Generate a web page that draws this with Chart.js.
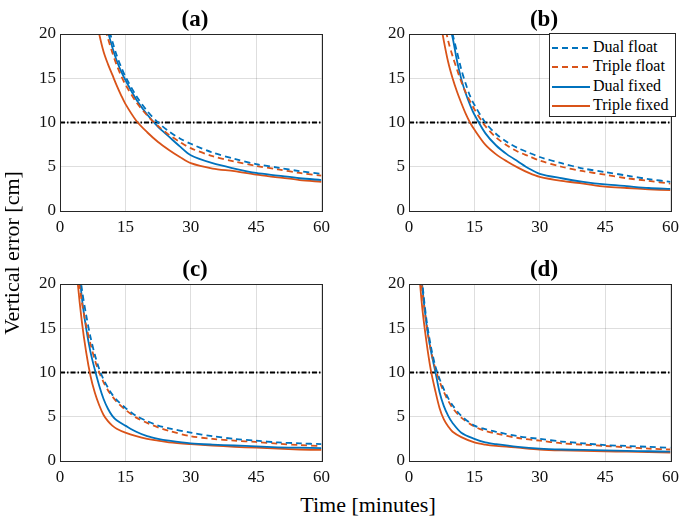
<!DOCTYPE html>
<html>
<head>
<meta charset="utf-8">
<script src="https://cdn.jsdelivr.net/npm/chart.js@4.4.0/dist/chart.umd.min.js"></script>
<style>
  body { margin: 0; background: #fff; }
  #wrap { position: relative; width: 685px; height: 520px; font-family: "Liberation Serif", "Times New Roman", serif; color: #000; }
  canvas { position: absolute; }
  .ttl { position: absolute; width: 266px; text-align: center; font-weight: bold; font-size: 23px; line-height: 24px; }
  .lbl { position: absolute; font-size: 22px; line-height: 22px; white-space: nowrap; }
  #legend { position: absolute; left: 549px; top: 33px; width: 125px; height: 82px; border: 1px solid #262626; background: #fff; font-size: 16px; }
  #legend div { position: absolute; left: 2px; height: 20px; line-height: 20px; }
  #legend svg { vertical-align: middle; margin-right: 3px; }
</style>
</head>
<body>
<div id="wrap">
  <canvas id="cA" width="336" height="240" style="left:0;top:0"></canvas>
  <canvas id="cB" width="336" height="240" style="left:349px;top:0"></canvas>
  <canvas id="cC" width="336" height="240" style="left:0;top:250px"></canvas>
  <canvas id="cD" width="336" height="240" style="left:349px;top:250px"></canvas>

  <div class="ttl" style="left:62px;top:7px">(a)</div>
  <div class="ttl" style="left:411px;top:7px">(b)</div>
  <div class="ttl" style="left:62px;top:257px">(c)</div>
  <div class="ttl" style="left:411px;top:257px">(d)</div>

  <div class="lbl" style="left:-88px;top:242px;transform:rotate(-90deg);width:200px;text-align:center">Vertical error [cm]</div>
  <div class="lbl" style="left:268px;top:494px;width:200px;text-align:center">Time [minutes]</div>

  <div id="legend">
    <div style="top:3px"><svg width="38" height="4"><line x1="0" y1="2" x2="38" y2="2" stroke="#0072BD" stroke-width="2" stroke-dasharray="6 4"/></svg>Dual float</div>
    <div style="top:22px"><svg width="38" height="4"><line x1="0" y1="2" x2="38" y2="2" stroke="#D95319" stroke-width="2" stroke-dasharray="6 4"/></svg>Triple float</div>
    <div style="top:42px"><svg width="38" height="4"><line x1="0" y1="2" x2="38" y2="2" stroke="#0072BD" stroke-width="2"/></svg>Dual fixed</div>
    <div style="top:61px"><svg width="38" height="4"><line x1="0" y1="2" x2="38" y2="2" stroke="#D95319" stroke-width="2"/></svg>Triple fixed</div>
  </div>
</div>

<script>
// time axis (minutes) and error values (cm)
const timeRange = [0, 60];
const threshold = 10;

const timesA = [8, 9, 10, 11, 12, 13, 14, 15, 17.5, 20, 22.5, 25, 27.5, 30, 35, 40, 45, 50, 55, 60];
const dualFloatA   = [28, 25.5, 23, 21, 19.2, 17.6, 16.3, 15.2, 13.0, 11.3, 10.0, 9.0, 8.2, 7.6, 6.6, 5.9, 5.3, 4.9, 4.5, 4.2];
const tripleFloatA = [26, 23.5, 21.3, 19.5, 17.9, 16.5, 15.3, 14.3, 12.3, 10.8, 9.6, 8.6, 7.8, 7.1, 6.2, 5.6, 5.1, 4.7, 4.3, 4.0];
const dualFixedA   = [28, 25, 22.5, 20.3, 18.5, 17.0, 15.8, 14.8, 12.6, 10.9, 9.5, 8.4, 7.3, 6.3, 5.4, 4.8, 4.3, 4.0, 3.7, 3.5];
const tripleFixedA = [22.5, 20, 18, 16.6, 15.4, 14.2, 13.1, 12.1, 10.2, 8.9, 7.8, 6.9, 6.1, 5.4, 4.8, 4.5, 4.1, 3.8, 3.5, 3.3];

const timesB = [6, 7, 8, 9, 10, 11, 12, 13, 14, 15, 17.5, 20, 22.5, 25, 27.5, 30, 35, 40, 45, 50, 55, 60];
const dualFloatB   = [30, 27, 24.5, 22, 20, 18.0, 16.0, 14.4, 13.0, 12.0, 10.0, 8.7, 7.8, 7.1, 6.6, 6.1, 5.4, 4.8, 4.4, 4.0, 3.6, 3.3];
const tripleFloatB = [27, 24, 21.5, 19.2, 17.5, 16.0, 14.6, 13.4, 12.4, 11.5, 9.6, 8.3, 7.4, 6.7, 6.2, 5.7, 5.0, 4.5, 4.1, 3.7, 3.4, 3.1];
const dualFixedB   = [30, 27, 24, 21.5, 19.6, 17.0, 14.9, 13.3, 12.0, 10.9, 8.8, 7.4, 6.4, 5.6, 4.8, 4.2, 3.7, 3.3, 3.0, 2.8, 2.6, 2.5];
const tripleFixedB = [25, 22, 19.2, 16.8, 15.0, 13.5, 12.2, 11.0, 10.0, 9.2, 7.5, 6.4, 5.6, 4.9, 4.3, 3.85, 3.4, 3.1, 2.75, 2.6, 2.45, 2.35];

const timesC = [3, 4, 5, 6, 7, 8, 9, 10, 11, 12, 13, 15, 17.5, 20, 22.5, 25, 30, 35, 40, 45, 50, 55, 60];
const dualFloatC   = [30, 24, 19.5, 16.5, 14.0, 12.0, 10.4, 9.2, 8.3, 7.5, 6.9, 6.0, 5.1, 4.5, 4.0, 3.7, 3.2, 2.8, 2.5, 2.3, 2.1, 2.0, 1.9];
const tripleFloatC = [28, 22, 18.0, 15.3, 13.2, 11.4, 10.0, 8.9, 8.0, 7.3, 6.7, 5.8, 4.9, 4.3, 3.8, 3.4, 2.8, 2.5, 2.3, 2.15, 1.95, 1.8, 1.7];
const dualFixedC   = [30, 24, 18.5, 15.0, 12.3, 10.3, 8.5, 7.0, 5.9, 5.1, 4.6, 4.0, 3.3, 2.8, 2.5, 2.3, 2.0, 1.85, 1.75, 1.65, 1.55, 1.5, 1.45];
const tripleFixedC = [27, 20.5, 15.8, 12.3, 9.6, 7.7, 6.3, 5.2, 4.5, 4.0, 3.65, 3.2, 2.8, 2.5, 2.3, 2.1, 1.9, 1.75, 1.6, 1.5, 1.4, 1.3, 1.25];

const timesD = [1.5, 2, 3, 4, 5, 6, 7, 8, 9, 10, 12, 15, 17.5, 20, 25, 30, 35, 40, 45, 50, 55, 60];
const dualFloatD   = [32, 27, 20.5, 16.0, 13.0, 10.8, 9.3, 8.1, 7.1, 6.3, 5.1, 4.0, 3.6, 3.3, 2.8, 2.5, 2.2, 2.0, 1.8, 1.7, 1.6, 1.5];
const tripleFloatD = [30, 25.5, 19.5, 15.5, 12.6, 10.5, 9.0, 7.8, 6.8, 6.0, 4.9, 3.9, 3.4, 3.1, 2.6, 2.3, 2.0, 1.85, 1.7, 1.55, 1.4, 1.3];
const dualFixedD   = [32, 27, 20, 15.5, 12.5, 10.2, 7.8, 6.2, 5.1, 4.3, 3.2, 2.5, 2.1, 1.9, 1.6, 1.4, 1.3, 1.25, 1.2, 1.15, 1.1, 1.05];
const tripleFixedD = [28, 23.5, 17.5, 13.5, 10.3, 8.0, 6.0, 4.7, 3.9, 3.3, 2.7, 2.1, 1.85, 1.7, 1.5, 1.3, 1.2, 1.15, 1.1, 1.05, 1.0, 0.95];

const xTicks = [0, 15, 30, 45, 60];
const yTicks = [0, 5, 10, 15, 20];

const blue = '#0072BD';
const orange = '#D95319';
const tickFont = { family: '"Liberation Serif", "Times New Roman", serif', size: 17 };

function pts(times, vals) {
  return times.map((t, i) => ({ x: t, y: vals[i] }));
}

// frame around plot area, like a MATLAB box
const boxPlugin = {
  id: 'box',
  afterDraw(chart) {
    const a = chart.chartArea, ctx = chart.ctx;
    ctx.save();
    ctx.strokeStyle = '#262626';
    ctx.lineWidth = 1;
    ctx.strokeRect(Math.round(a.left) + 0.5, Math.round(a.top) + 0.5, Math.round(a.right - a.left), Math.round(a.bottom - a.top));
    ctx.restore();
  }
};

function makePanel(id, times, df, tf, dx, tx) {
  const line = (label, vals, color, dash) => ({
    label: label,
    data: pts(times, vals),
    borderColor: color,
    borderWidth: 1.8,
    borderDash: dash,
    pointRadius: 0,
    tension: 0.3,
    fill: false
  });
  new Chart(document.getElementById(id), {
    type: 'line',
    data: {
      datasets: [
        line('Dual float', df, blue, [6, 4]),
        line('Triple float', tf, orange, [6, 4]),
        line('Dual fixed', dx, blue, []),
        line('Triple fixed', tx, orange, []),
        {
          label: '10 cm',
          data: timeRange.map(t => ({ x: t, y: threshold })),
          borderColor: '#000',
          borderWidth: 2,
          borderDash: [5, 2, 1.5, 2],
          pointRadius: 0
        }
      ]
    },
    options: {
      responsive: false,
      animation: false,
      layout: { padding: { left: 0, right: 10, top: 34, bottom: 0 } },
      plugins: { legend: { display: false }, tooltip: { enabled: false } },
      scales: {
        x: {
          type: 'linear',
          min: timeRange[0],
          max: timeRange[1],
          afterFit: s => { s.height = 29; },
          afterBuildTicks: s => { s.ticks = xTicks.map(v => ({ value: v })); },
          grid: { color: 'rgba(0,0,0,0.13)', drawTicks: false },
          border: { display: false },
          ticks: { color: '#111', padding: 6, maxRotation: 0, font: tickFont }
        },
        y: {
          min: 0,
          max: 20,
          afterFit: s => { s.width = 60; },
          afterBuildTicks: s => { s.ticks = yTicks.map(v => ({ value: v })); },
          grid: { color: 'rgba(0,0,0,0.13)', drawTicks: false },
          border: { display: false },
          ticks: { color: '#111', padding: 4, font: tickFont }
        }
      }
    },
    plugins: [boxPlugin]
  });
}

makePanel('cA', timesA, dualFloatA, tripleFloatA, dualFixedA, tripleFixedA);
makePanel('cB', timesB, dualFloatB, tripleFloatB, dualFixedB, tripleFixedB);
makePanel('cC', timesC, dualFloatC, tripleFloatC, dualFixedC, tripleFixedC);
makePanel('cD', timesD, dualFloatD, tripleFloatD, dualFixedD, tripleFixedD);
</script>
</body>
</html>
